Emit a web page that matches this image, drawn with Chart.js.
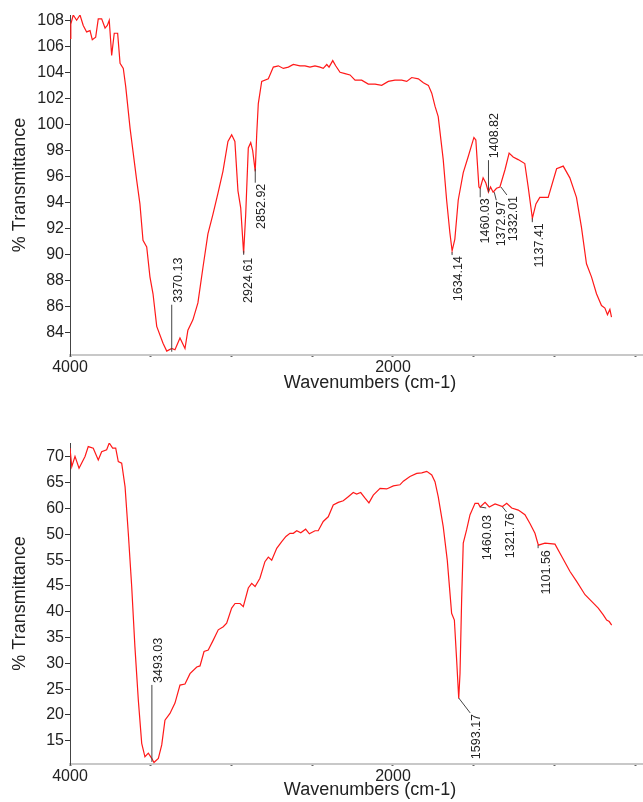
<!DOCTYPE html>
<html>
<head>
<meta charset="utf-8">
<script src="https://cdn.jsdelivr.net/npm/chart.js@4.4.1/dist/chart.umd.min.js"></script>
<style>
  html, body { margin: 0; padding: 0; background: #fff; }
  #wrap { position: relative; width: 643px; height: 802px; }
  canvas { position: absolute; left: 0; }
</style>
</head>
<body>
<div id="wrap">
  <canvas id="topChart" width="643" height="400" style="top:0"></canvas>
  <canvas id="bottomChart" width="643" height="402" style="top:400px"></canvas>
</div>
<script>
// eje x común (número de onda, invertido)
var xTickValues = [4000, 3500, 3000, 2500, 2000, 1500, 1000, 500];
var xTickLabels = [4000, 2000];

// espectro superior
var wnTop = [4000,3995,3980,3959,3938,3918,3897,3876,3862,3841,3825,3804,3783,3769,3757,3742,3726,3705,3690,3670,3655,3628,
    3587,3567,3548,3525,3505,3486,3463,3424,3401,3370,3350,3319,3288,3270,3239,3208,3177,3146,3115,3084,3053,3022,2999,2979,2960,2943,2925,2912,2896,2881,2869,2853,2844,
    2834,2813,2772,2741,2710,2679,2648,2617,2576,2545,2514,2483,2452,2432,2410,2396,2373,2355,2328,2297,2266,2235,2194,2153,2111,2070,2029,1988,1946,1915,1884,1843,1812,1781,1760,1740,
    1720,1689,1668,1648,1634,1617,1596,1565,1535,1499,1487,1468,1460,1442,1425,1409,1396,1380,1359,1338,1307,1281,1256,1225,1184,1163,1137,1115,1091,1039,987,946,905,864,833,802,771,740,709,688,672,657,647];
var tTop = [106.6,107.7,108.4,108.0,108.4,107.6,107.1,107.2,106.5,106.7,108.1,108.1,107.4,107.6,108.0,105.3,107.0,107.0,104.7,104.3,102.9,99.7,
    95.7,93.9,91.1,90.6,88.3,87.0,84.5,83.2,82.6,82.8,82.7,83.6,82.8,84.2,85.0,86.3,89.0,91.6,93.1,94.7,96.4,98.7,99.2,98.7,94.9,93.6,90.1,93.1,98.2,98.6,98.0,96.4,99.2,
    101.6,103.3,103.5,104.4,104.5,104.3,104.4,104.6,104.5,104.5,104.4,104.5,104.4,104.3,104.6,104.4,104.9,104.5,104.0,103.9,103.8,103.4,103.4,103.1,103.1,103.0,103.3,103.4,103.4,103.3,103.6,103.5,103.2,103.0,102.4,101.4,
    100.6,97.3,94.2,91.7,90.3,91.2,94.2,96.3,97.5,99.0,98.8,95.2,95.1,95.9,95.5,94.8,95.2,94.8,95.1,95.2,96.5,97.8,97.5,97.3,97.0,95.2,92.8,93.9,94.4,94.4,96.6,96.8,95.9,94.4,92.1,89.3,88.3,87.0,86.1,85.9,85.4,85.8,85.2];
var yTicksTop = [84, 86, 88, 90, 92, 94, 96, 98, 100, 102, 104, 106, 108];
var yLabelsTop = ['84', '86', '88', '90', '92', '94', '96', '98', '100', '102', '104', '106', '108'];
var peakWnTop = [3370.13, 2924.61, 2852.92, 1634.14, 1460.03, 1408.82, 1372.97, 1332.01, 1137.41];
var peakTTop = [82.55, 90.3, 96.6, 90.2, 95.1, 94.8, 94.8, 95.2, 92.8];

// espectro inferior
var wnBottom = [4000,3989,3969,3944,3907,3887,3856,3825,3804,3773,3757,3736,3717,3701,3680,3659,3639,3618,3598,3577,3556,3536,3515,3494,3480,3453,3432,3412,3381,3350,3319,3288,3257,3215,3195,3170,3144,3113,3082,3051,3030,2999,2978,2947,2927,2896,2875,2854,
    2824,2793,2772,2751,2720,2689,2663,2638,2617,2596,2571,2541,2518,2483,2463,2432,2401,2370,2339,2308,2277,2246,2225,2200,2173,2149,2122,2080,2039,1998,1957,1936,1895,1853,1822,1791,1760,1740,1720,
    1689,1664,1637,1620,1606,1593,1585,1575,1565,1544,1523,1492,1472,1460,1430,1404,1368,1322,1296,1265,1224,1183,1152,1121,1100,1059,997,955,904,863,811,770,729,698,677,661,646];
var tBottom = [71.7,68.1,70.1,67.8,70.1,72.0,71.7,69.4,71.0,71.4,72.7,71.7,71.7,69.1,68.8,64.2,55.2,44.9,33.2,22.9,14.5,11.9,12.6,11.6,10.8,11.6,14.2,19.0,20.3,22.3,25.8,26.0,28.0,29.3,29.5,32.3,32.6,34.5,36.5,37.1,37.8,40.7,41.6,41.6,41.0,44.6,45.5,44.9,
    46.5,49.7,50.6,50.0,52.3,53.6,54.6,55.2,55.2,55.7,55.3,56.0,55.1,55.7,55.7,57.5,58.4,60.7,61.2,61.5,62.3,63.1,62.8,63.1,62.0,61.1,62.6,63.9,63.8,64.4,64.6,65.3,66.2,66.8,66.9,67.2,66.5,65.2,62.3,
    56.5,50.0,39.7,38.4,30.7,23.2,28.1,42.3,53.3,55.9,58.8,61.0,61.0,60.3,61.2,60.3,60.9,60.4,61.0,60.1,59.7,58.8,57.1,55.2,52.9,53.3,53.1,50.7,47.8,45.9,43.3,42.0,40.7,39.4,38.4,38.1,37.4];
var yTicksBottom = [15, 20, 25, 30, 35, 40, 45, 50, 55, 60, 65, 70];
var yLabelsBottom = ['15', '20', '25', '30', '35', '40', '45', '55', '50', '60', '65', '70']; // tal como aparece en la figura
var peakWnBottom = [3493.03, 1593.17, 1460.03, 1321.76, 1101.56];
var peakTBottom = [10.9, 23.3, 60.3, 60.3, 52.9];

// desplazamientos de las líneas guía [dx, dy, texto dx, texto dy] en px
var leadersTop = [[0,-47,7,-2],[0,4,4.5,3],[0,14,6,1],[0,3,6,1],[0,9,5,1],[0,-32,6.5,-2],[2,8,5,1],[6,8,6.5,1],[0,4,7.5,1]];
var leadersBottom = [[0,-77,7,-2],[11.5,15,6.5,1],[6,1,1,7],[4,5,4,1],[0,3,8,2]];

var FONT = '"Liberation Sans", Arial, sans-serif';
Chart.defaults.font.family = FONT;
Chart.defaults.color = '#222';

function peaksPlugin(wns, ts, leaders) {
    return {
        id: 'peaks',
        afterDatasetsDraw(chart) {
            const ctx = chart.ctx, x = chart.scales.x, y = chart.scales.y;
            ctx.save();
            ctx.strokeStyle = '#444';
            ctx.lineWidth = 1;
            ctx.fillStyle = '#222';
            ctx.font = '12.5px ' + FONT;
            ctx.textBaseline = 'middle';
            wns.forEach((wn, i) => {
                const px = x.getPixelForValue(wn), py = y.getPixelForValue(ts[i]);
                const l = leaders[i];
                const ex = px + l[0], ey = py + l[1];
                ctx.beginPath();
                ctx.moveTo(px, py);
                ctx.lineTo(ex, ey);
                ctx.stroke();
                ctx.save();
                ctx.translate(ex + l[2], ey + l[3]);
                ctx.rotate(-Math.PI / 2);
                ctx.textAlign = l[1] < 0 ? 'left' : 'right';
                ctx.fillText(wn.toFixed(2), 0, 0);
                ctx.restore();
            });
            ctx.restore();
        }
    };
}

function xTitlePlugin(ty) {
    return {
        id: 'xTitle',
        afterDraw(chart) {
            const ctx = chart.ctx;
            ctx.save();
            ctx.fillStyle = '#222';
            ctx.font = '18px ' + FONT;
            ctx.textAlign = 'center';
            ctx.textBaseline = 'middle';
            ctx.fillText('Wavenumbers (cm-1)', 370, ty);
            ctx.restore();
        }
    };
}

function makeSpectrum(id, wn, t, yMin, yMax, yTicks, yLabels, padTop, plotBottom, titleY, peaks) {
    const canvas = document.getElementById(id);
    const h = canvas.height;
    return new Chart(canvas.getContext('2d'), {
        type: 'line',
        data: {
            datasets: [{
                data: wn.map((v, i) => ({ x: v, y: t[i] })),
                borderColor: 'rgb(255, 25, 25)',
                borderWidth: 1.2,
                pointRadius: 0,
                tension: 0,
                fill: false
            }]
        },
        options: {
            responsive: false,
            animation: false,
            devicePixelRatio: 1,
            layout: { padding: { top: padTop, left: 0, right: 0, bottom: 0 } },
            plugins: { legend: { display: false }, tooltip: { enabled: false } },
            scales: {
                x: {
                    type: 'linear',
                    reverse: true,
                    min: 452,
                    max: 4000,
                    afterBuildTicks: s => { s.ticks = xTickValues.map(v => ({ value: v })); },
                    afterFit: s => { s.height = h - plotBottom; },
                    ticks: {
                        autoSkip: false,
                        maxRotation: 0,
                        padding: 1,
                        color: '#222',
                        font: { size: 16 },
                        callback: v => xTickLabels.indexOf(v) >= 0 ? String(v) : ''
                    },
                    grid: { drawOnChartArea: false, tickLength: 2, tickWidth: 2, tickColor: '#666' },
                    border: { color: '#c8c8c8', width: 2 }
                },
                y: {
                    min: yMin,
                    max: yMax,
                    afterBuildTicks: s => { s.ticks = yTicks.map(v => ({ value: v })); },
                    afterFit: s => { s.width = 70; },
                    ticks: {
                        padding: 1,
                        color: '#222',
                        font: { size: 16 },
                        callback: (v, i) => yLabels[i]
                    },
                    grid: { drawOnChartArea: false, tickLength: 5, tickColor: '#333' },
                    border: { color: '#444', width: 1, dash: [1, 2] },
                    title: {
                        display: true,
                        text: '% Transmittance',
                        color: '#222',
                        font: { size: 18 },
                        padding: { top: 9, bottom: 0 }
                    }
                }
            }
        },
        plugins: [peaks, xTitlePlugin(titleY)]
    });
}

document.addEventListener('DOMContentLoaded', () => {
    makeSpectrum('topChart', wnTop, tTop, 82.3, 108.4, yTicksTop, yLabelsTop, 15, 355, 383,
        peaksPlugin(peakWnTop, peakTTop, leadersTop));
    makeSpectrum('bottomChart', wnBottom, tBottom, 10.5, 72.7, yTicksBottom, yLabelsBottom, 43, 364, 390,
        peaksPlugin(peakWnBottom, peakTBottom, leadersBottom));
});
</script>
</body>
</html>
